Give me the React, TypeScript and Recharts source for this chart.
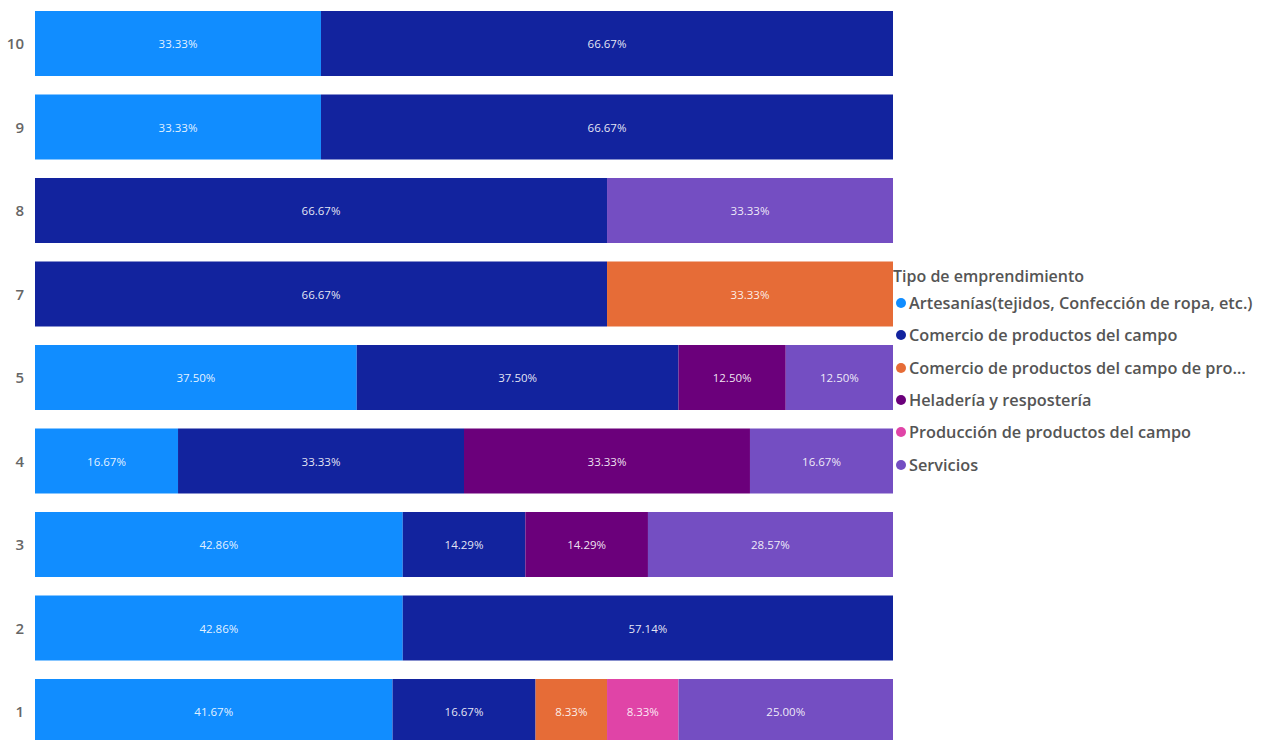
import React from 'react';
import { BarChart, Bar, XAxis, YAxis, Legend, LabelList } from 'recharts';

const categories = ['10', '9', '8', '7', '5', '4', '3', '2', '1'];
const artesanias = [33.33, 33.33, null, null, 37.5, 16.67, 42.86, 42.86, 41.67];
const comercio = [66.67, 66.67, 66.67, 66.67, 37.5, 33.33, 14.29, 57.14, 16.67];
const comercioPro = [null, null, null, 33.33, null, null, null, null, 8.33];
const heladeria = [null, null, null, null, 12.5, 33.33, 14.29, null, null];
const produccion = [null, null, null, null, null, null, null, null, 8.33];
const servicios = [null, null, 33.33, null, 12.5, 16.67, 28.57, null, 25.0];

const seriesNames = [
  'Artesanías(tejidos, Confección de ropa, etc.)',
  'Comercio de productos del campo',
  'Comercio de productos del campo de pro…',
  'Heladería y respostería',
  'Producción de productos del campo',
  'Servicios',
];
const seriesKeys = ['art', 'com', 'comPro', 'hel', 'prod', 'serv'];
const seriesColors = ['#118DFF', '#12239E', '#E66C37', '#6B007B', '#E044A7', '#744EC2'];
const seriesValues = [artesanias, comercio, comercioPro, heladeria, produccion, servicios];

const data = categories.map((name, i) => {
  const row: Record<string, any> = { name };
  seriesKeys.forEach((k, s) => {
    row[k] = seriesValues[s][i];
  });
  return row;
});

const FONT = '"Segoe UI", "Open Sans", "Noto Sans", sans-serif';

const renderLabel = (props: any) => {
  const { x, y, width, height, value } = props;
  if (value === null || value === undefined || value === 0) return null;
  return (
    <text
      x={x + width / 2}
      y={y + height / 2}
      textAnchor="middle"
      dominantBaseline="central"
      fill="#ffffff"
      fillOpacity={0.9}
      fontSize={11.5}
      fontFamily={FONT}
    >
      {Number(value).toFixed(2) + '%'}
    </text>
  );
};

const LegendContent = () => (
  <div style={{ fontFamily: FONT, color: '#555555', fontWeight: 600, fontSize: 16.3 }}>
    <div style={{ height: 25, lineHeight: '28px', whiteSpace: 'nowrap', fontSize: 16 }}>Tipo de emprendimiento</div>
    {seriesNames.map((n, i) => (
      <div key={n} style={{ height: 32.3, display: 'flex', alignItems: 'center', whiteSpace: 'nowrap' }}>
        <span
          style={{
            display: 'inline-block',
            width: 10,
            height: 10,
            borderRadius: 5,
            background: seriesColors[i],
            marginLeft: 3,
            marginRight: 3,
          }}
        />
        <span>{n}</span>
      </div>
    ))}
  </div>
);

export default function App() {
  return (
    <div
      style={{
        position: 'absolute',
        left: 0,
        top: 0,
        width: 1266,
        height: 740,
        overflow: 'hidden',
        background: '#ffffff',
      }}
    >
      <BarChart
        width={1266}
        height={760}
        data={data}
        layout="vertical"
        margin={{ top: 2, right: 373, bottom: 6.5, left: 0 }}
      >
        <XAxis type="number" domain={[0, 100]} hide allowDataOverflow />
        <YAxis
          type="category"
          dataKey="name"
          width={35}
          axisLine={false}
          tickLine={false}
          tickMargin={5}
          tick={{ fill: '#666666', fontSize: 15, fontWeight: 600, fontFamily: FONT }}
        />
        <Legend
          layout="vertical"
          align="center"
          verticalAlign="middle"
          content={<LegendContent />}
          wrapperStyle={{ left: 893, top: 262, width: 373 }}
        />
        {seriesKeys.map((k, i) => (
          <Bar
            key={k}
            dataKey={k}
            name={seriesNames[i]}
            stackId="a"
            fill={seriesColors[i]}
            barSize={65}
            isAnimationActive={false}
          >
            <LabelList dataKey={k} content={renderLabel} />
          </Bar>
        ))}
      </BarChart>
    </div>
  );
}
